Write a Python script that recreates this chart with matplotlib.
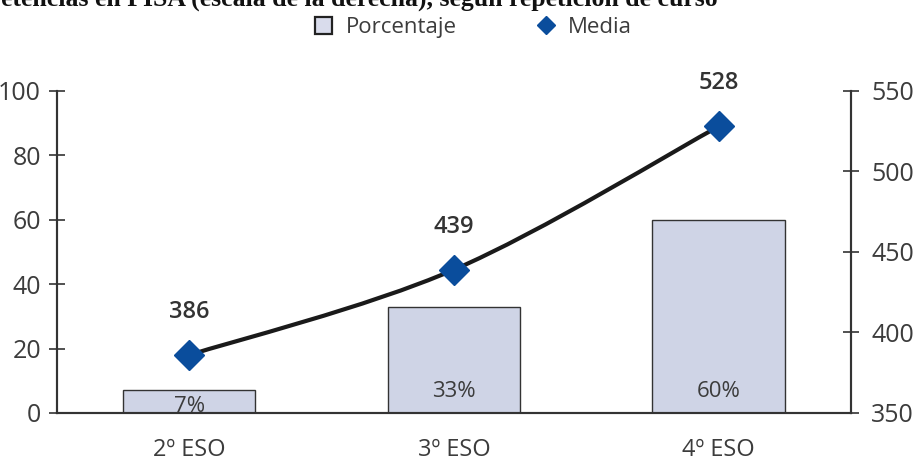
import matplotlib.pyplot as plt
from matplotlib.lines import Line2D
from matplotlib.patches import Patch, PathPatch
from matplotlib.path import Path

plt.rcParams["font.family"] = ["Open Sans", "DejaVu Sans"]

cursos = ["2º ESO", "3º ESO", "4º ESO"]
porcentaje = [7, 33, 60]
media = [386, 439, 528]

INK = "#333333"
TXT = "#3c3c3c"
BAR = "#cfd4e6"
BLUE = "#0a4d9c"


def smooth_path(xs, ys):
    # Catmull-Rom through the points, written as cubic Bezier segments
    pts = list(zip(xs, ys))
    ext = [pts[0]] + pts + [pts[-1]]
    verts = [pts[0]]
    codes = [Path.MOVETO]
    for i in range(1, len(ext) - 2):
        p0, p1, p2, p3 = ext[i - 1], ext[i], ext[i + 1], ext[i + 2]
        c1 = (p1[0] + (p2[0] - p0[0]) / 6, p1[1] + (p2[1] - p0[1]) / 6)
        c2 = (p2[0] - (p3[0] - p1[0]) / 6, p2[1] - (p3[1] - p1[1]) / 6)
        verts += [c1, c2, p2]
        codes += [Path.CURVE4] * 3
    return Path(verts, codes)


fig = plt.figure(figsize=(9.19, 4.63), dpi=100)
ax = fig.add_axes([0.062, 0.108, 0.864, 0.6955])
ax2 = ax.twinx()

x = list(range(len(cursos)))
ax.bar(x, porcentaje, width=0.5, color=BAR, edgecolor=INK, linewidth=1.0, zorder=2)
for xi, v in zip(x, porcentaje):
    ax.text(xi, min(v * 0.3, 6.6), f"{v}%", ha="center", va="center",
            fontsize=16, color=TXT, zorder=3)

ax.set_xlim(-0.5, 2.5)
ax.set_ylim(0, 100)
ax.set_yticks([0, 20, 40, 60, 80, 100])
ax.set_xticks(x)
ax.set_xticklabels(cursos)
ax.tick_params(axis="x", length=0, pad=18, labelsize=17, labelcolor=TXT)
ax.tick_params(axis="y", direction="inout", length=11, width=1.2, color=INK,
               pad=6, labelsize=18, labelcolor=TXT)

ax2.set_ylim(350, 550)
ax2.set_yticks([350, 400, 450, 500, 550])
ax2.tick_params(axis="y", direction="inout", length=11, width=1.2, color=INK,
                pad=9, labelsize=18, labelcolor=TXT)

for a in (ax, ax2):
    a.spines["top"].set_visible(False)
    for s in ("left", "right", "bottom"):
        a.spines[s].set_linewidth(1.5)
        a.spines[s].set_color(INK)

ax2.add_patch(PathPatch(smooth_path(x, media), facecolor="none", edgecolor="#1a1a1a",
                        linewidth=3.0, capstyle="round", zorder=3))
ax2.plot(x, media, linestyle="none", marker="D", markersize=15,
         color=BLUE, zorder=4)
for xi, v in zip(x, media):
    ax2.annotate(f"{v}", (xi, v), xytext=(0, 31), textcoords="offset points",
                 ha="center", va="center", fontsize=17, fontweight="semibold",
                 color="#333333")

handles = [
    Patch(facecolor="#d9dcec", edgecolor="#222222", linewidth=1.6, label="Porcentaje"),
    Line2D([], [], linestyle="none", marker="D", markersize=9, color=BLUE, label="Media"),
]
fig.legend(handles=handles, loc="center", bbox_to_anchor=(0.515, 0.94), ncol=2,
           frameon=False, fontsize=16, handlelength=0.8, handleheight=0.8,
           handletextpad=0.6, columnspacing=3.6, labelcolor=TXT)

fig.text(718 / 919, 1 - 6 / 463,
         "Competencias en PISA (escala de la derecha), según repetición de curso",
         ha="right", va="baseline", fontsize=18.5, fontweight="bold",
         family=["Liberation Serif", "DejaVu Serif"], color="#111111")

fig.savefig("out.png", dpi=100)
